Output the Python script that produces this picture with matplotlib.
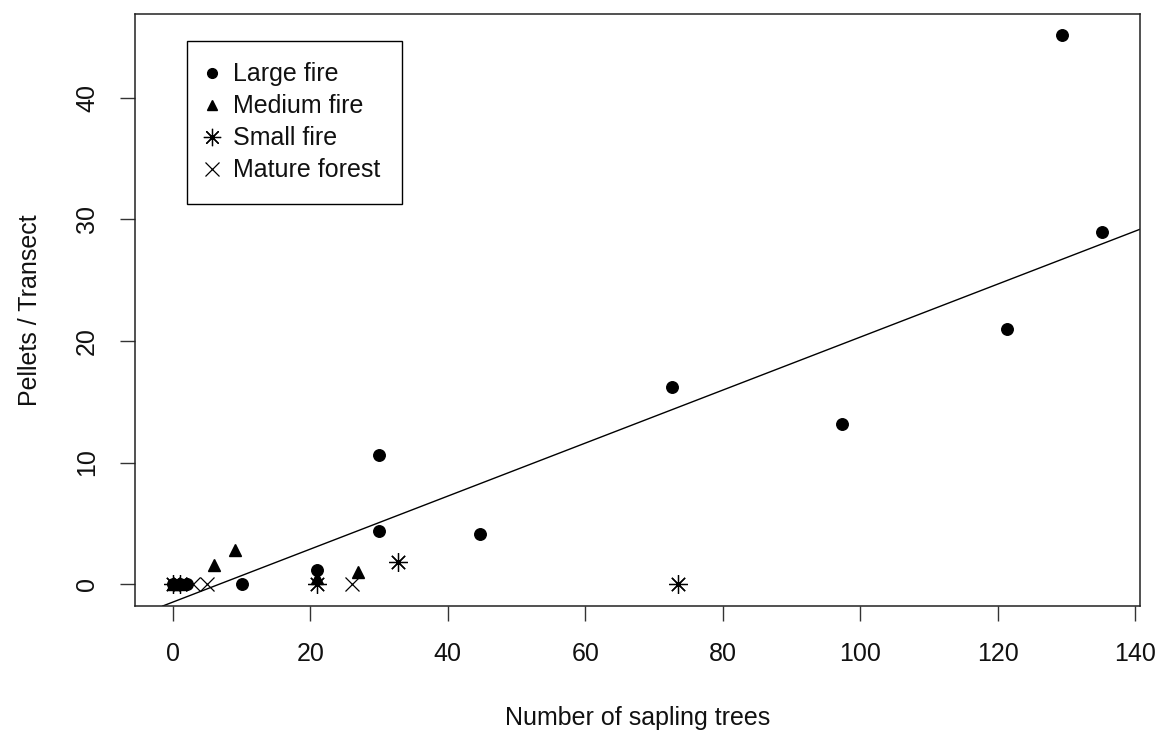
import matplotlib.pyplot as plt
from matplotlib.lines import Line2D

plt.rcParams['font.family'] = ['Liberation Sans', 'DejaVu Sans']

# data
large_x = [0, 1, 2, 10, 21, 30, 30, 44.7, 72.6, 97.4, 121.4, 129.4, 135.2]
large_y = [0, 0, 0, 0, 1.2, 4.4, 10.6, 4.1, 16.2, 13.2, 21.0, 45.2, 29.0]
medium_x = [0, 1, 6, 9, 21, 27]
medium_y = [0, 0, 1.6, 2.8, 0.5, 1.0]
small_x = [0, 1, 21, 32.7, 73.5]
small_y = [0, 0, 0, 1.8, 0]
mature_x = [3, 5, 26]
mature_y = [0, 0, 0]

fit_intercept = -1.48
fit_slope = 0.218

xticks = [0, 20, 40, 60, 80, 100, 120, 140]
yticks = [0, 10, 20, 30, 40]

fig = plt.figure(figsize=(11.55, 7.36), dpi=100)
ax = fig.add_axes([135 / 1155, 1 - 606 / 736, 1005 / 1155, 592 / 736])

fs = 18
asterisk = (8, 2, 0)

ax.plot(large_x, large_y, 'o', color='black', markersize=8.3, linestyle='none')
ax.plot(medium_x, medium_y, '^', color='black', markersize=8.3, linestyle='none')
ax.plot(small_x, small_y, marker=asterisk, color='black', markersize=13.5,
        markeredgewidth=0.9, linestyle='none')
ax.plot(mature_x, mature_y, 'x', color='black', markersize=10,
        markeredgewidth=0.9, linestyle='none')

ax.axline((0, fit_intercept), slope=fit_slope, color='black', lw=1)

ax.set_xlim(-5.5, 140.7)
ax.set_ylim(-1.8, 46.9)
ax.set_xticks(xticks)
ax.set_yticks(yticks)
ax.tick_params(axis='both', length=11, width=1, labelsize=fs, color='#333333',
               labelcolor='#111111')
ax.tick_params(axis='x', pad=15)
ax.tick_params(axis='y', pad=15)
for lab in ax.get_yticklabels():
    lab.set_rotation(90)
    lab.set_va('center')

for sp in ax.spines.values():
    sp.set_linewidth(1.1)
    sp.set_color('#222222')

ax.set_xlabel('Number of sapling trees', fontsize=fs, color='#111111')
ax.xaxis.label.set_va('center')
ax.xaxis.set_label_coords(0.5, (606 - 718) / 592)
ax.set_ylabel('Pellets / Transect', fontsize=fs, color='#111111')
ax.yaxis.label.set_va('center')
ax.yaxis.set_label_coords((30 - 135) / 1005, (606 - 310) / 592)

handles = [
    Line2D([], [], marker='o', color='black', markersize=7, linestyle='none'),
    Line2D([], [], marker='^', color='black', markersize=7, linestyle='none'),
    Line2D([], [], marker=asterisk, color='black', markersize=12.5,
           markeredgewidth=0.9, linestyle='none'),
    Line2D([], [], marker='x', color='black', markersize=10,
           markeredgewidth=0.9, linestyle='none'),
]
labels = ['Large fire', 'Medium fire', 'Small fire', 'Mature forest']
leg = ax.legend(handles, labels, loc='upper left',
                bbox_to_anchor=((187 - 135) / 1005, (606 - 41) / 592),
                fontsize=fs, frameon=True, fancybox=False, framealpha=1,
                edgecolor='black', borderpad=0.85, handlelength=0.3,
                handletextpad=0.7, labelspacing=0.32, borderaxespad=0)
leg.get_frame().set_linewidth(1.0)
for t in leg.get_texts():
    t.set_color('#111111')

fig.savefig('out.png', dpi=100)
